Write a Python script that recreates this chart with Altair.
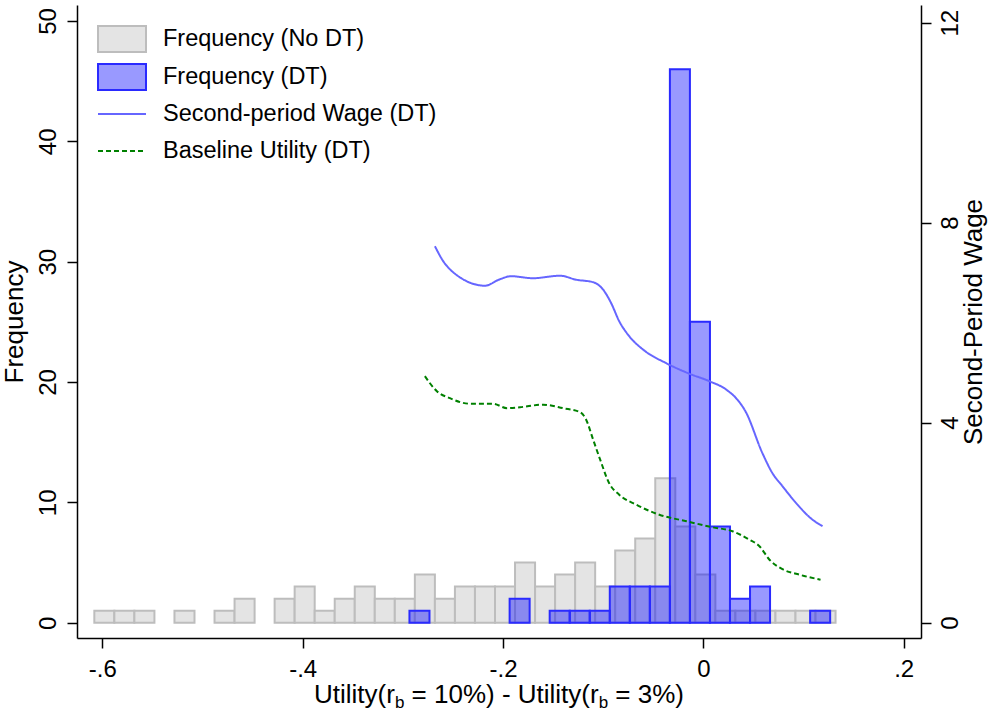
import altair as alt
import pandas as pd

FONT = "Liberation Sans"

nodt_label = "Frequency (No DT)"
dt_label = "Frequency (DT)"
wage_label = "Second-period Wage (DT)"
base_label = "Baseline Utility (DT)"

# Histogram bins (width 0.02)
bin_width = 0.02
nodt_first_edge = -0.608
nodt_counts = [1, 1, 1, 0, 1, 0, 1, 2, 0, 2, 3, 1, 2, 3, 2, 2, 4, 2, 3, 3, 3, 5, 3, 4,
               5, 3, 6, 7, 12, 8, 4, 1, 1, 1, 1, 1, 1]
dt_first_edge = -0.2934
dt_counts = [1, 0, 0, 0, 0, 2, 0, 1, 1, 1, 3, 3, 3, 46, 25, 8, 2, 3, 0, 0, 1]

# Smoothed lines (right axis)
wage_x = [-0.268, -0.259, -0.251, -0.218, -0.203, -0.192, -0.170, -0.143, -0.127,
          -0.110, -0.100, -0.092, -0.084, -0.074, -0.060, -0.037, -0.014, 0.006, 0.023,
          0.034, 0.042, 0.059, 0.069, 0.079, 0.094, 0.109, 0.119]
wage_y = [7.53, 7.21, 7.03, 6.74, 6.87, 6.93, 6.89, 6.94, 6.86,
          6.81, 6.66, 6.39, 6.03, 5.73, 5.46, 5.19, 4.98, 4.83, 4.66,
          4.46, 4.23, 3.39, 2.99, 2.73, 2.36, 2.06, 1.93]
base_x = [-0.278, -0.266, -0.253, -0.233, -0.210, -0.196, -0.183, -0.160, -0.140, -0.123,
          -0.117, -0.110, -0.103, -0.094, -0.084, -0.067, -0.044, -0.017, 0.009, 0.029,
          0.046, 0.056, 0.066, 0.079, 0.096, 0.117]
base_y = [4.93, 4.63, 4.49, 4.38, 4.38, 4.29, 4.31, 4.36, 4.29, 4.21,
          4.06, 3.66, 3.26, 2.79, 2.56, 2.36, 2.16, 2.03, 1.91, 1.83,
          1.66, 1.53, 1.26, 1.07, 0.96, 0.86]

x_ticks = [-0.6, -0.4, -0.2, 0, 0.2]
freq_ticks = [0, 10, 20, 30, 40, 50]
wage_ticks = [0, 4, 8, 12]

# x title pieces: (text, is_subscript, space_before)
x_title_parts = [("Utility(r", False, False), ("b", True, False), ("= 10%) - Utility(r", False, True),
                 ("b", True, False), ("= 3%)", False, True)]


def hist_rows(first_edge, counts, label):
    rows = []
    for i, c in enumerate(counts):
        if c > 0:
            lo = first_edge + i * bin_width
            rows.append({"x0": lo, "x1": lo + bin_width, "count": c, "base": 0, "series": label})
    return rows


bars_df = pd.DataFrame(hist_rows(nodt_first_edge, nodt_counts, nodt_label)
                       + hist_rows(dt_first_edge, dt_counts, dt_label))
lines_df = pd.concat([
    pd.DataFrame({"x": wage_x, "y": wage_y, "series": wage_label}),
    pd.DataFrame({"x": base_x, "y": base_y, "series": base_label}),
], ignore_index=True)

W, H = 844, 633
xscale = alt.Scale(domain=[-0.6253, 0.2173], nice=False, zero=False)
x_axis = alt.Axis(values=x_ticks, title=None, grid=False, labelFlush=False,
                  labelExpr="datum.value == 0 ? '0' : (datum.value < 0 ? '-' : '') + '.' + round(abs(datum.value) * 10)",
                  labelBaseline="alphabetic", labelPadding=28, labelAngle=0)

bar_legend = alt.Legend(title=None, orient="none", legendX=31, legendY=20,
                        symbolType="M-1.846,-1H1.846V1H-1.846Z", symbolSize=676, symbolStrokeWidth=2,
                        labelFontSize=23.5, labelFont=FONT, labelColor="black", labelOffset=27,
                        labelLimit=500, rowPadding=4, padding=0, symbolOffset=0)
line_legend = alt.Legend(title=None, orient="none", legendX=20, legendY=84,
                         symbolType="stroke", symbolSize=2304, symbolStrokeWidth=2,
                         labelFontSize=23.5, labelFont=FONT, labelColor="black", labelOffset=16,
                         labelLimit=500, rowPadding=0, padding=0, symbolOffset=0)

bars = alt.Chart(bars_df).mark_bar(strokeWidth=2).encode(
    x=alt.X("x0:Q", scale=xscale, axis=x_axis),
    x2="x1:Q",
    y=alt.Y("count:Q", scale=alt.Scale(domain=[-1.271, 51.33], nice=False, zero=False),
            axis=alt.Axis(values=freq_ticks, title="Frequency", grid=False,
                          labelAngle=270, labelAlign="center", labelBaseline="alphabetic",
                          labelPadding=12, titleAngle=270, titleAlign="center",
                          titleBaseline="bottom", titleX=-50, titleY=H / 2)),
    y2="base:Q",
    fill=alt.Fill("series:N", scale=alt.Scale(domain=[nodt_label, dt_label],
                                              range=["#e4e4e4", "rgba(0,0,255,0.4)"]),
                  legend=bar_legend),
    stroke=alt.Stroke("series:N", scale=alt.Scale(domain=[nodt_label, dt_label],
                                                  range=["#bdbdbd", "#2a2aff"]),
                      legend=bar_legend),
)

lines = alt.Chart(lines_df).mark_line(strokeWidth=2, interpolate="monotone").encode(
    x=alt.X("x:Q", scale=xscale, axis=x_axis),
    y=alt.Y("y:Q", scale=alt.Scale(domain=[-0.306, 12.354], nice=False, zero=False),
            axis=alt.Axis(orient="right", values=wage_ticks, title="Second-Period Wage", grid=False,
                          labelAngle=270, labelAlign="center", labelBaseline="alphabetic",
                          labelPadding=26, titleAngle=270, titleAlign="center",
                          titleBaseline="bottom", titleX=65, titleY=H / 2)),
    color=alt.Color("series:N", scale=alt.Scale(domain=[wage_label, base_label],
                                                range=["#6666ff", "#008000"]),
                    legend=line_legend),
    strokeDash=alt.StrokeDash("series:N", scale=alt.Scale(domain=[wage_label, base_label],
                                                          range=[[1, 0], [5, 3]]),
                              legend=line_legend),
)

# x-axis title with subscripts, built from text pieces (Arial/Liberation metrics)
TF = 26.0
SF = 17.0
SPACE = 0.278
adv = {"U": 0.722, "t": 0.278, "i": 0.222, "l": 0.222, "y": 0.5, "(": 0.333, "r": 0.333,
       " ": 0.278, "=": 0.584, "1": 0.556, "0": 0.556, "%": 0.889, ")": 0.333, "-": 0.333,
       "3": 0.556, "b": 0.556}


def text_width(s, fs):
    return sum(adv[c] for c in s) * fs


total = 0.0
for part, sub, sp in x_title_parts:
    fs = SF if sub else TF
    total += text_width(part, fs) + (SPACE * TF if sp else 0)
cur = W / 2 - total / 2
title_layers = []
base_y_px = 698
for part, sub, sp in x_title_parts:
    fs = SF if sub else TF
    if sp:
        cur += SPACE * TF
    yy = base_y_px + (5 if sub else 0)
    title_layers.append(
        alt.Chart(pd.DataFrame({"t": [part]})).mark_text(
            align="left", baseline="alphabetic", fontSize=fs, font=FONT, color="black"
        ).encode(text="t:N", x=alt.value(cur), y=alt.value(yy))
    )
    cur += text_width(part, fs)

chart = alt.layer(bars, lines, *title_layers).resolve_scale(y="independent").properties(
    width=W, height=H,
    autosize=alt.AutoSizeParams(type="none"),
    padding={"left": 77, "top": 5, "right": 68, "bottom": 73},
).configure_view(stroke="transparent").configure_axis(
    domainColor="black", domainWidth=1.5, tickColor="black", tickWidth=1.5, tickSize=10,
    labelColor="black", titleColor="black", labelFont=FONT, titleFont=FONT,
    labelFontSize=24, titleFontSize=26, titleFontWeight="normal",
)

chart.save("out.html", embed_options={"renderer": "svg", "actions": False})
